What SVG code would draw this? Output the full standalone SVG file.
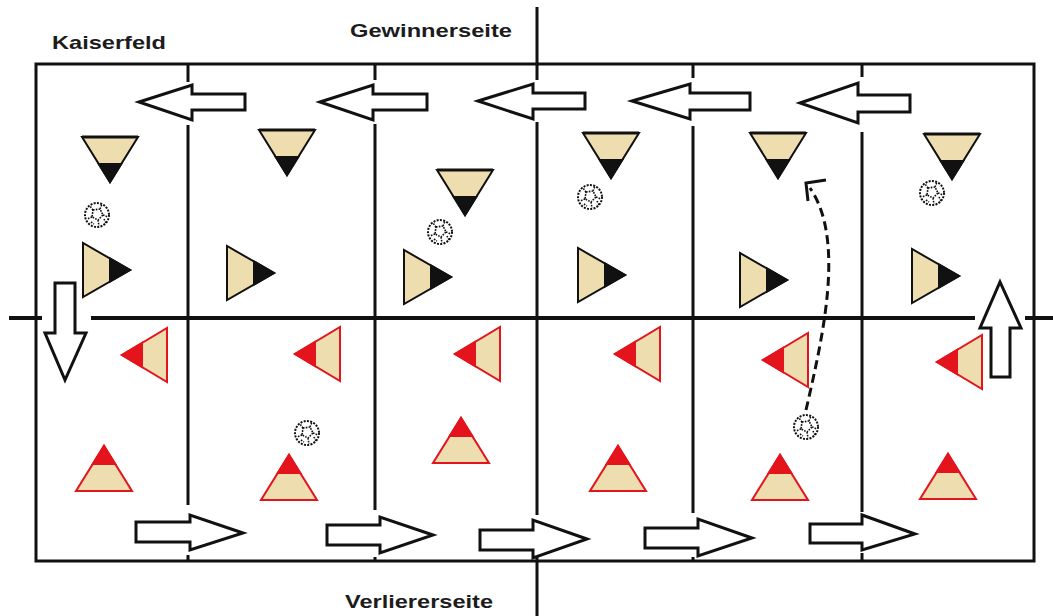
<svg xmlns="http://www.w3.org/2000/svg" width="1053" height="616" viewBox="0 0 1053 616">
<style>
.line{stroke:#111;stroke-width:3;fill:none}
.mid{stroke:#111;stroke-width:4;fill:none}
.blk{fill:#fff;stroke:#111;stroke-width:3;stroke-linejoin:miter}
.beige{fill:#EEDDAE}
.tk{stroke:#111;stroke-width:2;stroke-linejoin:miter}
.tr{stroke:#E3141C;stroke-width:2;stroke-linejoin:miter}
.lbl{font-family:"Liberation Sans",Arial,sans-serif;font-weight:bold;font-size:19px;fill:#1c1c1c}
.dash{stroke:#111;stroke-width:3;fill:none;stroke-dasharray:9 5}
</style>
<defs>
<g id="triDown">
<polygon points="-28,0 28,0 0,45" class="beige tk"/>
<polygon points="-11.2,27 11.2,27 0,45" fill="#111" class="tk"/>
<line x1="-28" y1="0" x2="28" y2="0" stroke="#111" stroke-width="3"/>
</g>
<g id="triRight">
<polygon points="0,-27 0,27 47,0" class="beige tk"/>
<polygon points="27,-11.5 27,11.5 47,0" fill="#111" class="tk"/>
</g>
<g id="triLeft">
<polygon points="0,-27 0,27 -45,0" class="beige tr"/>
<polygon points="-25,-12 -25,12 -45,0" fill="#E3141C" class="tr"/>
</g>
<g id="triUp">
<polygon points="-28,0 28,0 0,-45" class="beige tr"/>
<polygon points="-11.2,-27 11.2,-27 0,-45" fill="#E3141C" class="tr"/>
</g>
<g id="ball">
<circle r="12" fill="#fff" stroke="#111" stroke-width="2" stroke-dasharray="2 1.3"/>
<path d="M-4,-5 L3,-6 L6,0 L1,5 L-5,2 Z M3,-6 L5,-11 M6,0 L11,2 M1,5 L2,11 M-5,2 L-10,4 M-4,-5 L-7,-9 M7,4 L9,8 M-6,7 L-3,9" fill="none" stroke="#111" stroke-width="1.6" stroke-dasharray="1.6 1.2"/>
</g>
</defs>

<g id="field">
<rect x="36" y="64" width="998" height="497" class="line"/>
<path class="line" d="M188,64V82M188,125V505M188,555V561"/>
<path class="line" d="M375,64V80M375,124V510M375,557V561"/>
<path class="line" d="M537,7V80M537,122V515M537,557V616"/>
<path class="line" d="M693,64V78M693,126V513M693,557V561"/>
<path class="line" d="M862,64V77M862,132V512M862,553V561"/>
<path class="mid" d="M9,318H42M91,318H975M1025,318H1053"/>
</g>

<g id="labels">
<text id="kaiserfeld" class="lbl" x="52" y="49" textLength="114" lengthAdjust="spacingAndGlyphs">Kaiserfeld</text>
<text id="gewinnerseite" class="lbl" x="350" y="37" textLength="162" lengthAdjust="spacingAndGlyphs">Gewinnerseite</text>
<text id="verliererseite" class="lbl" x="345" y="608" textLength="148" lengthAdjust="spacingAndGlyphs">Verliererseite</text>
</g>

<g id="arrows">
<polygon id="arrowTop1" class="blk" points="139,102 192,85 192,94 245,94 245,110 192,110 192,120"/>
<polygon id="arrowTop2" class="blk" points="320,102 373,85 373,94 427,94 427,110 373,110 373,120"/>
<polygon id="arrowTop3" class="blk" points="478,101 533,84 533,93 585,93 585,109 533,109 533,119"/>
<polygon id="arrowTop4" class="blk" points="632,101 690,84 690,93 750,93 750,110 690,110 690,119"/>
<polygon id="arrowTop5" class="blk" points="800,103 858,83 858,95 910,95 910,112 858,112 858,123"/>
<polygon id="arrowBot1" class="blk" points="243,533 190,515 190,522 136,522 136,542 190,542 190,550"/>
<polygon id="arrowBot2" class="blk" points="433,535 380,517 380,525 327,525 327,545 380,545 380,553"/>
<polygon id="arrowBot3" class="blk" points="587,539 533,520 533,530 480,530 480,550 533,550 533,558"/>
<polygon id="arrowBot4" class="blk" points="752,538 698,519 698,528 645,528 645,548 698,548 698,556"/>
<polygon id="arrowBot5" class="blk" points="915,534 862,515 862,524 810,524 810,543 862,543 862,550"/>
<polygon id="arrowDown" class="blk" points="55,283 75,283 75,333 86,333 65,380 45,333 55,333"/>
<polygon id="arrowUp" class="blk" points="991,377 1010,377 1010,328 1021,328 1000,282 980,328 991,328"/>
</g>

<g id="winners">
<use id="w1" href="#triDown" x="110" y="137"/>
<use id="w2" href="#triDown" x="287" y="130"/>
<use id="w3" href="#triDown" x="465" y="170"/>
<use id="w4" href="#triDown" x="611" y="133"/>
<use id="w5" href="#triDown" x="778" y="133"/>
<use id="w6" href="#triDown" x="952" y="134"/>
<use id="wr1" href="#triRight" x="83" y="270"/>
<use id="wr2" href="#triRight" x="227" y="273"/>
<use id="wr3" href="#triRight" x="404" y="277"/>
<use id="wr4" href="#triRight" x="578" y="275"/>
<use id="wr5" href="#triRight" x="740" y="280"/>
<use id="wr6" href="#triRight" x="912" y="276"/>
</g>

<g id="losers">
<use id="l1" href="#triLeft" x="167" y="355"/>
<use id="l2" href="#triLeft" x="340" y="354"/>
<use id="l3" href="#triLeft" x="500" y="354"/>
<use id="l4" href="#triLeft" x="660" y="354"/>
<use id="l5" href="#triLeft" x="808" y="360"/>
<use id="l6" href="#triLeft" x="982" y="362"/>
<use id="lu1" href="#triUp" x="104" y="491"/>
<use id="lu2" href="#triUp" x="289" y="500"/>
<use id="lu3" href="#triUp" x="461" y="463"/>
<use id="lu4" href="#triUp" x="618" y="491"/>
<use id="lu5" href="#triUp" x="780" y="500"/>
<use id="lu6" href="#triUp" x="948" y="499"/>
</g>

<g id="balls">
<use id="b1" href="#ball" x="97" y="215"/>
<use id="b2" href="#ball" x="307" y="433"/>
<use id="b3" href="#ball" x="440" y="232"/>
<use id="b4" href="#ball" x="590" y="197"/>
<use id="b5" href="#ball" x="806" y="427"/>
<use id="b6" href="#ball" x="932" y="193"/>
</g>

<g id="connectors">
<path id="pass" class="dash" d="M806,410 C822,340 846,240 810,188"/>
<path id="passHead" d="M826,180 L806,183 L808,201" fill="none" stroke="#111" stroke-width="3"/>
</g>
</svg>
